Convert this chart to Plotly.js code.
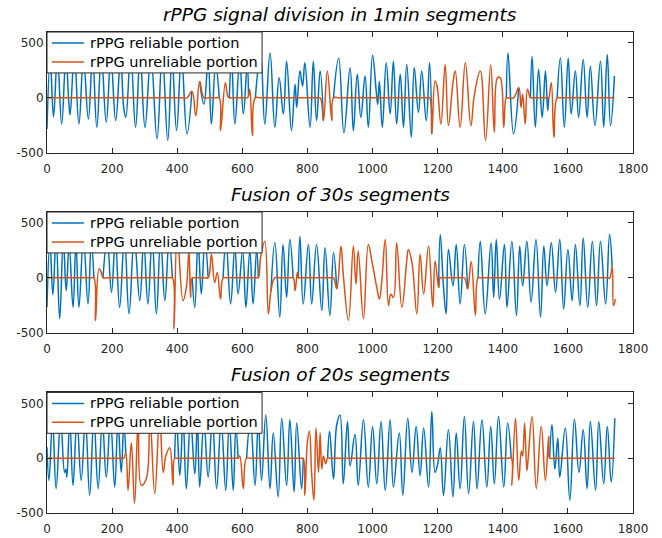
<!DOCTYPE html>
<html><head><meta charset="utf-8">
<script src="https://cdn.plot.ly/plotly-3.0.1.min.js"></script>
<style>html,body{margin:0;padding:0;background:#fff}#c{width:662px;height:538px}</style>
</head><body><div id="c"></div>
<script>
// ---- Panel 1: rPPG signal division in 1min segments ----
const p1X = [0,10,20,32,45,58,67,71,84,98,112,127,140,153,167,182,196,211,226,236,242,257,272,286,301,319,338,354,371,384,398,413,430,445,457,469,482,495,505,518,529,533,548,555,560,567,577,592,603,615,619,623,631,640,656,669,685,700,713,726,736,751,762,767,777,785,792,808,818,828,839,849,861,875,880,896,912,931,941,953,964,977,987,1000,1011,1016,1021,1030,1042,1054,1064,1074,1085,1095,1105,1119,1128,1141,1151,1165,1175,1182,1192,1198,1210,1223,1233,1247,1254,1269,1285,1302,1313,1331,1347,1363,1374,1384,1392,1403,1411,1416,1433,1449,1456,1461,1469,1476,1485,1490,1500,1510,1521,1531,1538,1541,1549,1557,1567,1577,1589,1601,1610,1623,1633,1647,1659,1669,1683,1700,1710,1721,1731,1743];
const p1Y = [-283,340,-172,380,-238,360,-40,-154,390,-238,350,-193,370,-268,380,-223,360,-208,350,-100,-178,390,-268,370,-268,380,-373,400,-388,360,-298,380,-328,60,-162,150,-57,330,-238,300,0,-298,138,18,0,350,-238,330,-147,300,20,78,-343,0,394,-238,409,-268,184,-147,334,-298,123,-87,244,108,319,-268,334,-208,244,-208,244,-208,0,360,-318,274,-298,214,-178,199,-268,388,70,-60,150,-268,319,-147,334,-238,214,-268,304,-358,274,-132,244,-208,319,-328,154,108,-238,304,-253,138,244,-268,319,-253,33,244,-388,300,-313,184,184,-268,0,409,-328,93,-87,33,-238,78,0,379,-268,259,-178,244,-117,0,138,-358,0,364,-268,364,-147,244,-178,349,-178,289,-253,334,-268,394,-253,199];
const p1BadStart = [445,529,619,849,1182,1449,1541];
const p1BadEnd   = [469,560,640,880,1411,1485,1567];

// ---- Panel 2: Fusion of 30s segments ----
const p2X = [0,9,18,28,39,50,59,68,80,89,98,112,126,136,144,149,160,167,172,185,198,210,223,238,252,268,285,297,310,323,336,349,362,375,385,390,400,418,428,436,441,446,454,464,474,485,495,505,515,523,533,541,550,564,577,587,601,611,623,633,644,649,656,669,680,688,700,715,725,736,746,756,762,769,772,777,787,803,813,828,844,854,869,880,890,903,910,926,941,949,956,972,987,997,1013,1021,1028,1039,1049,1056,1064,1074,1090,1105,1110,1121,1136,1146,1157,1172,1185,1192,1203,1208,1218,1226,1233,1247,1257,1269,1282,1292,1303,1316,1324,1331,1346,1364,1372,1380,1390,1405,1413,1428,1442,1452,1461,1474,1487,1502,1516,1526,1536,1549,1562,1575,1587,1600,1613,1623,1637,1647,1661,1675,1688,1700,1716,1728,1736,1740,1746];
const p2Y = [-268,330,-154,360,-373,350,-117,300,-268,320,-268,350,-238,330,0,-388,84,48,0,350,-132,340,-268,360,-328,360,-208,330,-238,360,-328,350,-208,340,0,-464,400,-208,-87,250,-180,0,-268,340,-147,330,0,214,-42,48,-193,0,330,-238,274,-147,244,-268,244,-238,259,0,184,334,-328,-120,319,-358,304,-178,349,0,-117,48,0,379,-238,304,-238,304,-298,274,-343,229,-100,289,33,-388,289,-57,244,-373,304,169,-87,-193,-42,349,-253,-150,-178,319,-268,154,259,138,-328,214,-147,289,-268,154,-87,394,-87,-328,259,-72,304,-238,304,-100,150,-343,0,334,-328,320,-178,349,-193,304,-268,334,-343,289,-72,334,-223,349,-358,289,-72,319,-132,349,-283,259,-208,304,-253,364,-268,334,-253,334,-238,394,100,-253,-193];
const p2BadStart = [144,385,495,649,756,890,1292,1736];
const p2BadEnd   = [172,446,541,688,772,1203,1324,1746];

// ---- Panel 3: Fusion of 20s segments ----
const p3X = [0,6,17,28,42,54,58,61,70,80,92,105,118,131,144,157,170,182,195,208,218,228,236,242,249,259,269,280,290,305,316,331,346,357,365,377,387,392,398,408,418,428,441,454,462,469,482,495,508,521,535,549,560,572,580,587,592,603,613,625,639,649,659,672,685,695,710,721,736,746,759,767,782,787,792,800,806,813,820,826,834,839,844,849,856,862,868,880,890,900,910,923,931,946,956,972,987,1000,1013,1026,1039,1054,1064,1082,1093,1108,1121,1134,1146,1157,1172,1182,1192,1200,1208,1218,1233,1247,1257,1269,1282,1295,1310,1321,1336,1351,1363,1374,1387,1403,1415,1426,1428,1439,1449,1457,1461,1467,1474,1478,1490,1503,1518,1531,1541,1544,1551,1560,1569,1575,1592,1606,1620,1634,1647,1659,1669,1685,1695,1710,1721,1733,1744];
const p3Y = [100,-203,340,-278,350,-129,-100,-173,340,-248,350,-203,350,-338,360,-278,340,-173,350,-263,330,-129,300,50,-293,141,-413,350,-248,-188,380,-323,380,-129,21,96,-248,0,350,-158,350,-278,350,-144,340,-263,330,-173,350,-278,340,-293,330,-293,280,0,21,-278,0,340,-248,330,-203,395,-278,230,-353,365,-248,350,-308,320,-278,0,-338,150,245,-144,-383,275,-129,230,-99,21,-50,0,245,-188,305,395,-233,335,-69,215,-248,350,-263,290,-233,335,-293,350,-263,230,-338,365,-129,290,-158,275,-263,425,-129,-54,96,-338,260,-353,230,-278,380,-323,335,-278,350,-263,290,-233,380,-263,320,0,-248,365,-203,66,20,320,-114,0,380,-278,290,-203,200,0,305,-99,185,-173,275,-383,356,-129,260,-278,335,-293,335,-233,290,-218,365];
const p3BadStart = [242,587,787,1426];
const p3BadEnd   = [392,613,862,1544];

const titles = ['rPPG signal division in 1min segments','Fusion of 30s segments','Fusion of 20s segments'];
const seriesNames = ['rPPG reliable portion','rPPG unreliable portion'];
const xTicks = [0,200,400,600,800,1000,1200,1400,1600,1800];
const yTicks = [-500,0,500];
const yTickText = ['-500','0','500'];

const BLUE = '#0072BD', ORANGE = '#D95319', AX = '#262626';
const FONT = 'DejaVu Sans, Verdana, sans-serif';

function split(xs, ys, bs, be) {
  const inside = (x, strict) => bs.some((s, i) => strict ? (x > s && x < be[i]) : (x >= s && x <= be[i]));
  return {
    blue: ys.map((y, i) => inside(xs[i], true) ? null : y),
    orange: ys.map((y, i) => inside(xs[i], false) ? y : 0)
  };
}

const panels = [[p1X,p1Y,p1BadStart,p1BadEnd],[p2X,p2Y,p2BadStart,p2BadEnd],[p3X,p3Y,p3BadStart,p3BadEnd]];
const domains = [[0.749,1],[0.3748,0.6258],[0,0.2507]];
const traces = [];
const layout = {
  width: 662, height: 538,
  margin: {l: 47, r: 29, t: 32, b: 25},
  paper_bgcolor: '#fff', plot_bgcolor: '#fff',
  font: {family: FONT, size: 12, color: AX},
  showlegend: false,
  annotations: [], shapes: []
};
// legend geometry (fractions of each axes box)
const LG = {x1: 0.367, y0: 0.661, s0: 0.0085, s1: 0.063, tx: 0.07, rows: [0.909, 0.752]};
panels.forEach((p, k) => {
  const s = split(p[0], p[1], p[2], p[3]);
  const n = k === 0 ? '' : String(k + 1);
  traces.push({x: p[0], y: s.blue, type: 'scatter', mode: 'lines', name: seriesNames[0],
    line: {color: BLUE, width: 1.5, shape: 'spline', smoothing: 1.2}, connectgaps: false,
    xaxis: 'x' + n, yaxis: 'y' + n});
  traces.push({x: p[0], y: s.orange, type: 'scatter', mode: 'lines', name: seriesNames[1],
    line: {color: ORANGE, width: 1.5, shape: 'spline', smoothing: 1.2},
    xaxis: 'x' + n, yaxis: 'y' + n});
  layout['xaxis' + n] = {domain: [0, 1], range: [0, 1800], anchor: 'y' + n, tickvals: xTicks,
    ticks: 'inside', ticklen: 5, tickcolor: AX, showline: true, linecolor: AX, linewidth: 1,
    mirror: 'ticks', showgrid: false, zeroline: false, ticklabelstandoff: 5,
    tickfont: {size: 12, color: AX, family: FONT}};
  layout['yaxis' + n] = {domain: domains[k], range: [-500, 600], anchor: 'x' + n, tickvals: yTicks,
    ticktext: yTickText, ticks: 'inside', ticklen: 5, tickcolor: AX, showline: true, linecolor: AX,
    linewidth: 1, mirror: 'ticks', showgrid: false, zeroline: false,
    tickfont: {size: 12, color: AX, family: FONT}};
  const xr = 'x' + n + ' domain', yr = 'y' + n + ' domain';
  layout.shapes.push({type: 'rect', xref: xr, yref: yr, x0: 0, x1: LG.x1, y0: LG.y0, y1: 1,
    fillcolor: '#fff', line: {color: AX, width: 1}, layer: 'above'});
  [BLUE, ORANGE].forEach((c, j) => {
    layout.shapes.push({type: 'line', xref: xr, yref: yr, x0: LG.s0, x1: LG.s1, y0: LG.rows[j], y1: LG.rows[j],
      line: {color: c, width: 1.5}, layer: 'above'});
    layout.annotations.push({text: seriesNames[j], xref: xr, yref: yr, x: LG.tx, y: LG.rows[j],
      xanchor: 'left', yanchor: 'middle', showarrow: false, font: {size: 14.5, color: '#000', family: FONT}});
  });
  layout.annotations.push({text: '<i>' + titles[k] + '</i>', xref: 'paper', yref: 'paper', x: 0.5,
    y: domains[k][1], xanchor: 'center', yanchor: 'bottom', yshift: 5, showarrow: false,
    font: {size: 18.5, color: '#000', family: FONT}});
});
Plotly.newPlot('c', traces, layout, {displayModeBar: false, staticPlot: true});
</script></body></html>
